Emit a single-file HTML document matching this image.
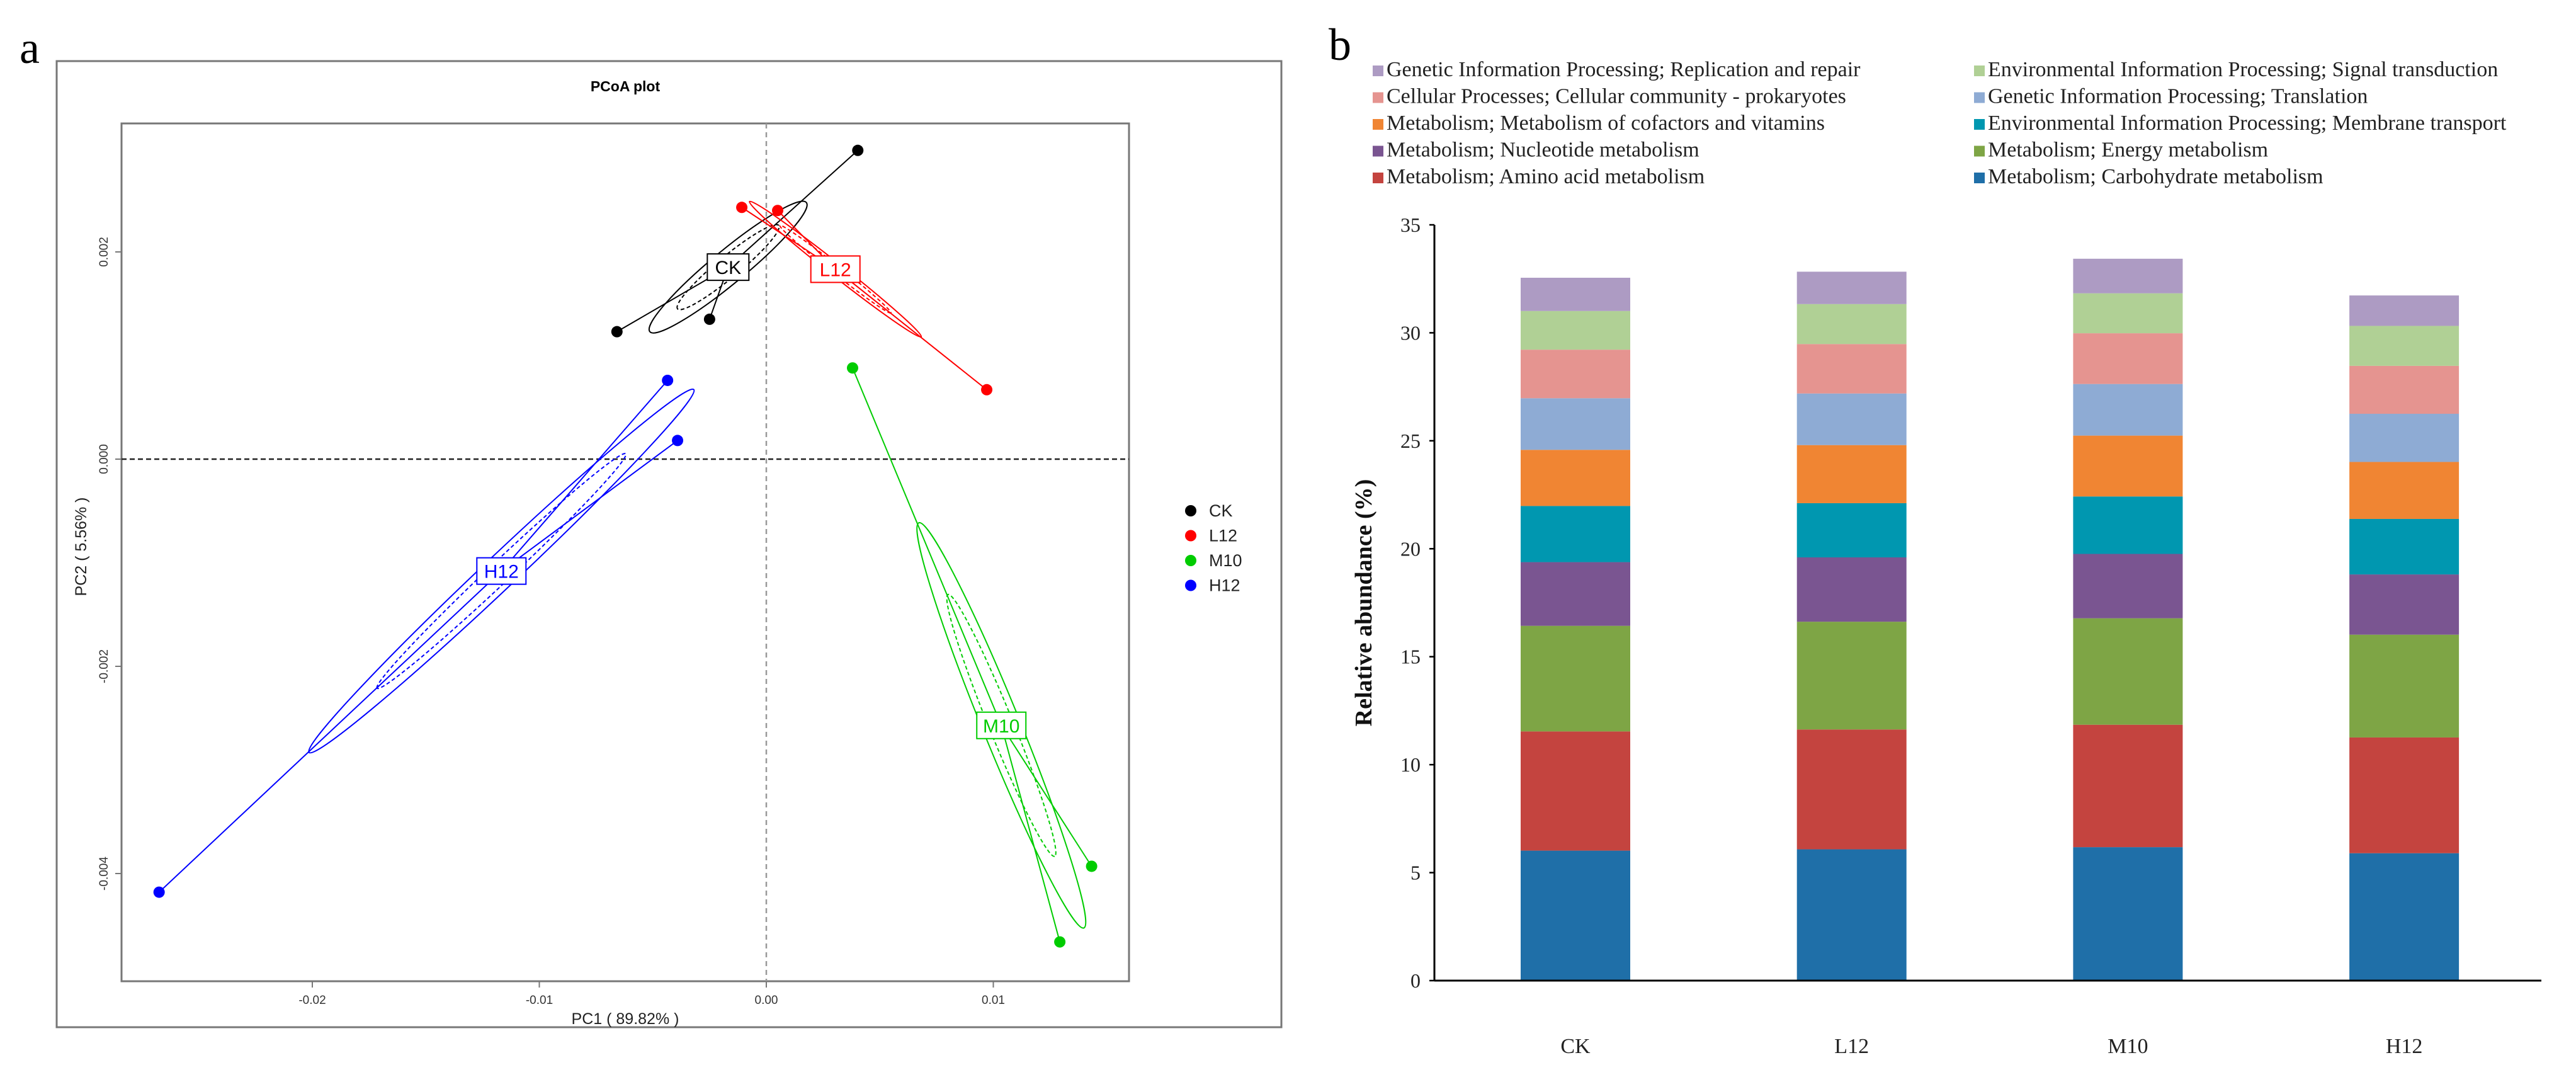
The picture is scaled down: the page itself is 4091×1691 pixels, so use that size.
<!DOCTYPE html>
<html><head><meta charset="utf-8"><style>
html,body{margin:0;padding:0;background:#fff;}
svg{display:block;}
</style></head><body>
<svg id="fig" width="4091" height="1691" viewBox="0 0 4091 1691" xmlns="http://www.w3.org/2000/svg">
<g id="pa"></g>
<g id="pb"></g>
</svg>
<script>
// ---------- Panel a data ----------
const groups = ["CK","L12","M10","H12"];
const groupColors = ["#000000","#ff0000","#00cc00","#0000ff"];
const ptsX_CK = [0.00403,-0.00658,-0.00250];
const ptsY_CK = [0.00298,0.00123,0.00135];
const ptsX_L12 = [-0.00108,0.00050,0.00971];
const ptsY_L12 = [0.00243,0.00240,0.00067];
const ptsX_M10 = [0.00380,0.01433,0.01293];
const ptsY_M10 = [0.00088,-0.00393,-0.00466];
const ptsX_H12 = [-0.00435,-0.00391,-0.02675];
const ptsY_H12 = [0.00076,0.00018,-0.00418];
const xTicks = [-0.02,-0.01,0.00,0.01];
const xTickLabels = ["-0.02","-0.01","0.00","0.01"];
const yTicks = [0.002,0.000,-0.002,-0.004];
const yTickLabels = ["0.002","0.000","-0.002","-0.004"];

// ---------- Panel b data ----------
const categories = ["CK","L12","M10","H12"];
const seriesNames = ["Metabolism; Carbohydrate metabolism","Metabolism; Amino acid metabolism","Metabolism; Energy metabolism","Metabolism; Nucleotide metabolism","Environmental Information Processing; Membrane transport","Metabolism; Metabolism of cofactors and vitamins","Genetic Information Processing; Translation","Cellular Processes; Cellular community - prokaryotes","Environmental Information Processing; Signal transduction","Genetic Information Processing; Replication and repair"];
const seriesColors = ["#1f6fa8","#c4443f","#7ea545","#7a5591","#0097b0","#f08533","#8eabd4","#e59490","#b0d095","#ad9bc3"];
const valsCK  = [6.02,5.52,4.89,2.95,2.60,2.60,2.39,2.25,1.79,1.54];
const valsL12 = [6.08,5.55,4.99,2.98,2.51,2.69,2.39,2.29,1.85,1.50];
const valsM10 = [6.18,5.67,4.93,2.98,2.66,2.82,2.39,2.35,1.85,1.60];
const valsH12 = [5.90,5.36,4.76,2.79,2.57,2.64,2.23,2.22,1.85,1.41];
const barTicks = [0,5,10,15,20,25,30,35];

const NS="http://www.w3.org/2000/svg";
function mk(parent,tag,attrs,text){const e=document.createElementNS(NS,tag);for(const k in attrs)e.setAttribute(k,attrs[k]);if(text!==undefined)e.textContent=text;parent.appendChild(e);return e;}

// ===== Panel a =====
const pa=document.getElementById('pa');
const X0=1217, XS=36050, Y0=729, YS=164500;
const sx=v=>X0+v*XS, sy=v=>Y0-v*YS;
const PL=193,PR=1793,PT=196,PB=1558;
const SANS='"Liberation Sans", Arial, sans-serif';
let t=mk(pa,'text',{x:31,y:100,'font-family':'"Liberation Serif",serif','font-size':72},'a');

let r=mk(pa,'rect',{x:90,y:97,width:1945,height:1534,fill:'none',stroke:'#777','stroke-width':3});

r=mk(pa,'rect',{x:PL,y:PT,width:PR-PL,height:PB-PT,fill:'none',stroke:'#777','stroke-width':3});

t=mk(pa,'text',{x:993,y:145,'font-family':SANS,'font-size':23,'font-weight':'bold','text-anchor':'middle'},'PCoA plot');

let l=mk(pa,'line',{x1:sx(0),x2:sx(0),y1:PT,y2:PB,stroke:'#999','stroke-width':2.5,'stroke-dasharray':'8,6'});

l=mk(pa,'line',{x1:PL,x2:PR,y1:sy(0),y2:sy(0),stroke:'#222','stroke-width':2.5,'stroke-dasharray':'8,5'});

xTicks.forEach((v,i)=>{
  const tk=mk(pa,'line',{x1:sx(v),x2:sx(v),y1:PB,y2:PB+10,stroke:'#777','stroke-width':2});
  
  const tl=mk(pa,'text',{x:sx(v),y:PB+36,'font-family':SANS,'font-size':19,'text-anchor':'middle',fill:'#333'},xTickLabels[i]);
  
});
yTicks.forEach((v,i)=>{
  const tk=mk(pa,'line',{x1:PL-10,x2:PL,y1:sy(v),y2:sy(v),stroke:'#777','stroke-width':2});
  
  const tl=mk(pa,'text',{x:0,y:0,'font-family':SANS,'font-size':19,'text-anchor':'middle',fill:'#333',transform:`translate(${PL-22},${sy(v)}) rotate(-90)`},yTickLabels[i]);
  
});
t=mk(pa,'text',{x:993,y:1626,'font-family':SANS,'font-size':25,'text-anchor':'middle',fill:'#222'},'PC1 ( 89.82% )');

t=mk(pa,'text',{x:0,y:0,'font-family':SANS,'font-size':25,'text-anchor':'middle',fill:'#222',transform:'translate(137,868) rotate(-90)'},'PC2 ( 5.56% )');


const allX=[ptsX_CK,ptsX_L12,ptsX_M10,ptsX_H12], allY=[ptsY_CK,ptsY_L12,ptsY_M10,ptsY_H12];
function ellipse(g,xs,ys,cx,cy,k,col,dash,name){
  const n=xs.length;let sxx=0,syy=0,sxy=0;
  for(let i=0;i<n;i++){const dx=xs[i]-cx,dy=ys[i]-cy;sxx+=dx*dx;syy+=dy*dy;sxy+=dx*dy;}
  sxx/=(n-1);syy/=(n-1);sxy/=(n-1);
  const tr=sxx+syy,det=sxx*syy-sxy*sxy,d=Math.sqrt(Math.max(tr*tr/4-det,0));
  const l1=tr/2+d,l2=Math.max(tr/2-d,0);
  const ang=Math.atan2(l1-sxx,sxy||1e-9);
  const e=mk(g,'ellipse',{cx:cx,cy:cy,rx:k*Math.sqrt(l1),ry:Math.max(k*Math.sqrt(l2),3),fill:'none',stroke:col,'stroke-width':2,transform:`rotate(${ang*180/Math.PI} ${cx} ${cy})`});
  if(dash)e.setAttribute('stroke-dasharray','6,4');
  
}
groups.forEach((gname,gi)=>{
  const g=mk(pa,'g',{});
  
  
  const col=groupColors[gi];const xs=allX[gi].map(sx),ys=allY[gi].map(sy);
  const cx=xs.reduce((a,b)=>a+b)/xs.length, cy=ys.reduce((a,b)=>a+b)/ys.length;
  ellipse(g,xs,ys,cx,cy,0.65,col,false,'ellipse-'+gname.toLowerCase());
  ellipse(g,xs,ys,cx,cy,0.42,col,true,'inner-ellipse-'+gname.toLowerCase());
  xs.forEach((x,i)=>{
    const sl=mk(g,'line',{x1:cx,y1:cy,x2:x,y2:ys[i],stroke:col,'stroke-width':2});
    
  });
  xs.forEach((x,i)=>{
    const c=mk(g,'circle',{cx:x,cy:ys[i],r:9,fill:col});
    
  });
  const w=gname.length>2?78:66;
  const b=mk(g,'rect',{x:cx-w/2,y:cy-21,width:w,height:42,fill:'#fff',stroke:col,'stroke-width':2});
  
  const lt=mk(g,'text',{x:cx,y:cy+11,'font-family':SANS,'font-size':30,'text-anchor':'middle',fill:col},gname);
  
  const ld=mk(pa,'circle',{cx:1891,cy:811+gi*39.5,r:9,fill:col});
  
  const ltx=mk(pa,'text',{x:1920,y:820+gi*39.5,'font-family':SANS,'font-size':27,fill:'#222'},gname);
  
});

// ===== Panel b =====
const pb=document.getElementById('pb');
const SERIF='"Liberation Serif","Times New Roman",serif';
const BX0=2278,BX1=4036,BY0=1557,BYS=1200/35;
const by=v=>BY0-v*BYS;
const bw=174;
const bx=i=>2502+i*438.7;
t=mk(pb,'text',{x:2110,y:95,'font-family':SERIF,'font-size':72},'b');

const legOrder=[9,8,7,6,5,4,3,2,1,0];
legOrder.forEach((si,k)=>{
  const col=k%2, row=Math.floor(k/2);
  const x=col?3135:2180, y=116+row*42.5;
  const s=mk(pb,'rect',{x:x,y:y-12,width:17,height:17,fill:seriesColors[si]});
  
  const lt=mk(pb,'text',{x:x+22,y:y+5,'font-family':SERIF,'font-size':34,fill:'#222'},seriesNames[si]);
  
});
const allVals=[valsCK,valsL12,valsM10,valsH12];
categories.forEach((c,ci)=>{
  const g=mk(pb,'g',{});
  
  let cum=0;
  allVals[ci].forEach((v,si)=>{
    const y1=by(cum+v),y2=by(cum);
    const seg=mk(g,'rect',{x:bx(ci)-bw/2,y:y1,width:bw,height:y2-y1,fill:seriesColors[si]});
    
    cum+=v;
  });
  const cl=mk(pb,'text',{x:bx(ci),y:1672,'font-family':SERIF,'font-size':34,'text-anchor':'middle',fill:'#222'},c);
  
});
l=mk(pb,'line',{x1:BX0,x2:BX0,y1:by(35),y2:BY0,stroke:'#000','stroke-width':3});

l=mk(pb,'line',{x1:BX0,x2:BX1,y1:BY0,y2:BY0,stroke:'#000','stroke-width':3});

barTicks.forEach(v=>{
  const tk=mk(pb,'line',{x1:BX0-8,x2:BX0,y1:by(v),y2:by(v),stroke:'#000','stroke-width':2.5});
  
  const tl=mk(pb,'text',{x:BX0-22,y:by(v)+11,'font-family':SERIF,'font-size':32,'text-anchor':'end',fill:'#222'},String(v));
  
});
t=mk(pb,'text',{x:0,y:0,'font-family':SERIF,'font-size':38,'font-weight':'bold','text-anchor':'middle',fill:'#111',transform:'translate(2178,957) rotate(-90)'},'Relative abundance (%)');

</script>
</body></html>
